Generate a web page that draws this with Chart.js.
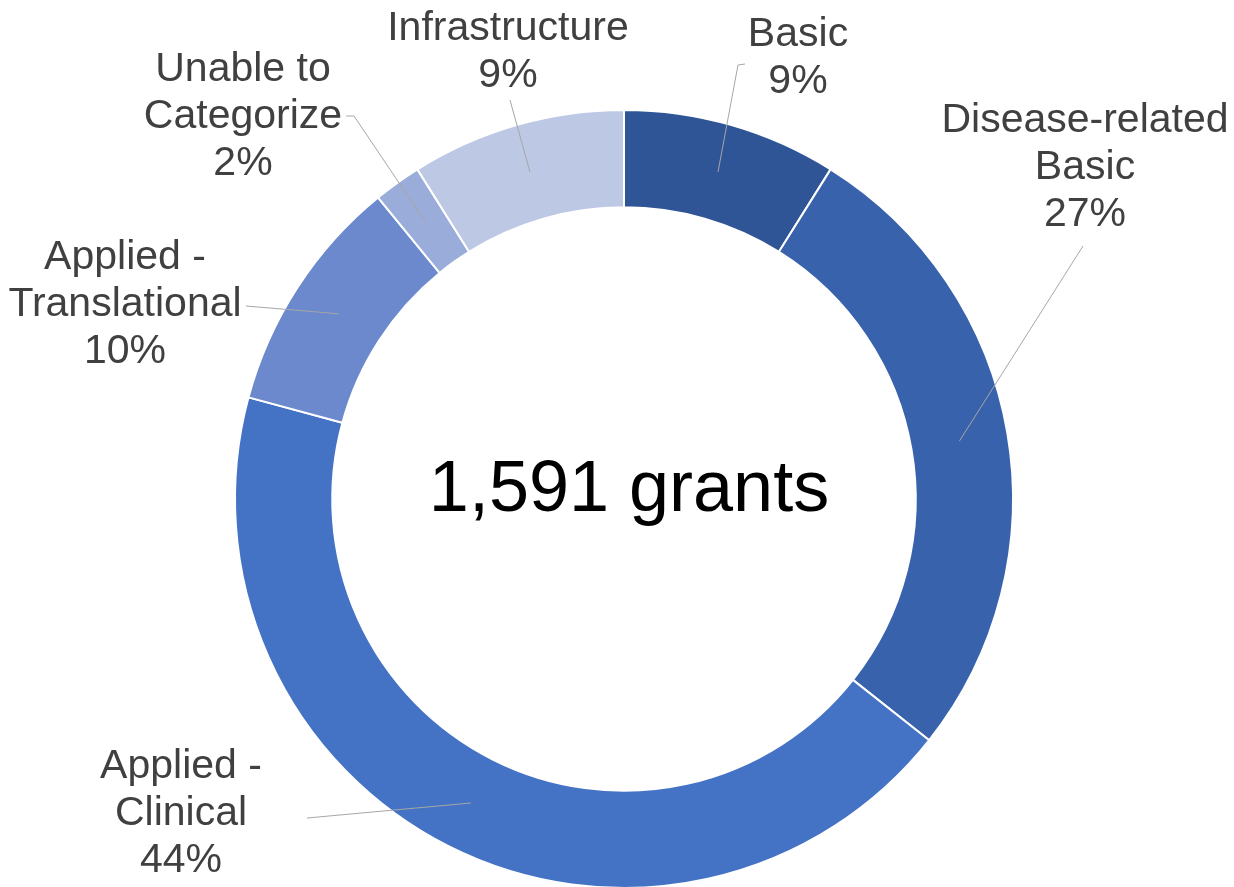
<!DOCTYPE html>
<html>
<head>
<meta charset="utf-8">
<title>Grants by research category</title>
<script src="https://cdn.jsdelivr.net/npm/chart.js@4.4.1/dist/chart.umd.min.js"></script>
<style>
    html, body { margin: 0; padding: 0; background: #fff; overflow: hidden; }
    #wrap { position: relative; width: 1234px; height: 900px; }
</style>
</head>
<body>
<div id="wrap"><canvas id="grants-donut"></canvas></div>
<script>
// categories (already wrapped the way they are printed) and their shares
const categories = [
    ['Basic'],
    ['Disease-related', 'Basic'],
    ['Applied -', 'Clinical'],
    ['Applied -', 'Translational'],
    ['Unable to', 'Categorize'],
    ['Infrastructure'],
];
const percents = [9, 27, 44, 10, 2, 9];
const totalText = '1,591 grants';

const sliceColors = ['#2F5597', '#3862AC', '#4472C4', '#6B89CC', '#9AACD9', '#BDC8E5'];

// where each label block sits (centre x, first line y) and where its leader starts
const labelLayout = [
    { x: 798, y: 35, leader: [[745, 64], [738, 65]] },
    { x: 1085, y: 121, leader: [[1083, 246]] },
    { x: 181, y: 767, leader: [[307, 818]] },
    { x: 125, y: 258, leader: [[246, 306]] },
    { x: 243, y: 70, leader: [[346, 116], [354, 116]] },
    { x: 508, y: 29, leader: [[510, 100]] },
];

const LINE_H = 47;
const LABEL_FONT = '41px "Liberation Sans", Arial, sans-serif';

const calloutPlugin = {
    id: 'callouts',
    afterDatasetsDraw(chart) {
        const ctx = chart.ctx;
        const arcs = chart.getDatasetMeta(0).data;
        ctx.save();

        // leader lines into the middle of each ring segment
        ctx.strokeStyle = '#A6A6A6';
        ctx.lineWidth = 1;
        arcs.forEach((arc, i) => {
            const end = arc.getCenterPoint();
            const pts = labelLayout[i].leader;
            ctx.beginPath();
            ctx.moveTo(pts[0][0], pts[0][1]);
            for (let k = 1; k < pts.length; k++) ctx.lineTo(pts[k][0], pts[k][1]);
            ctx.lineTo(end.x, end.y);
            ctx.stroke();
        });

        // category name + share
        ctx.fillStyle = '#404040';
        ctx.font = LABEL_FONT;
        ctx.textAlign = 'center';
        ctx.textBaseline = 'middle';
        categories.forEach((lines, i) => {
            const spot = labelLayout[i];
            const all = lines.concat([percents[i] + '%']);
            all.forEach((t, k) => ctx.fillText(t, spot.x, spot.y + k * LINE_H));
        });

        // total in the hole
        const c = arcs[0];
        ctx.fillStyle = '#000';
        ctx.font = '72px "Liberation Sans", Arial, sans-serif';
        ctx.fillText(totalText, c.x + 5, c.y - 8);
        ctx.restore();
    }
};

new Chart(document.getElementById('grants-donut').getContext('2d'), {
    type: 'doughnut',
    data: {
        labels: categories.map(l => l.join(' ')),
        datasets: [{
            data: percents,
            backgroundColor: sliceColors,
            borderColor: '#ffffff',
            borderWidth: 2,
            hoverOffset: 0,
        }]
    },
    options: {
        responsive: true,
        maintainAspectRatio: false,
        devicePixelRatio: 1,
        animation: false,
        cutout: '75%',
        layout: { padding: { top: 109, bottom: 11, left: 234, right: 220 } },
        plugins: {
            legend: { display: false },
            tooltip: { enabled: false },
        },
    },
    plugins: [calloutPlugin],
});
</script>
</body>
</html>
